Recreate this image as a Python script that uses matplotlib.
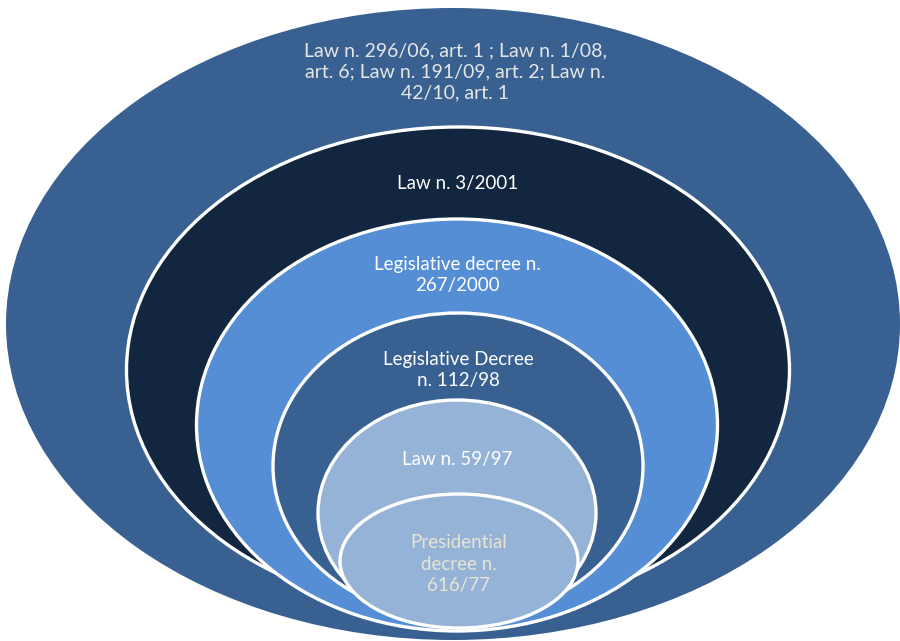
import matplotlib
matplotlib.use("Agg")
import matplotlib.pyplot as plt
from matplotlib.patches import Ellipse
from matplotlib import font_manager

# labels, outermost ring first
labels: list[str] = [
    "Law n. 296/06, art. 1 ; Law n. 1/08,\nart. 6; Law n. 191/09, art. 2; Law n.\n42/10, art. 1",
    "Law n. 3/2001",
    "Legislative decree n.\n267/2000",
    "Legislative Decree\nn. 112/98",
    "Law n. 59/97",
    "Presidential\ndecree n.\n616/77",
]

fill_colors: list[str] = ["#386192", "#12263F", "#558ED5", "#386192", "#95B3D7", "#95B3D7"]
text_colors: list[str] = ["#E6E6E6", "#FFFFFF", "#FFFFFF", "#FFFFFF", "#FFFFFF", "#E8E4D4"]

# ellipse geometry in pixel coords (cx, cy, width, height), y grows downward
ellipses: list[tuple[float, float, float, float]] = [
    (453, 324, 894, 632),
    (458, 370, 663, 486),
    (457, 425, 521, 412),
    (458, 466, 370, 306),
    (457, 513, 278, 226),
    (459, 561, 238, 134),
]
label_y: list[float] = [72, 184, 275, 370, 460, 564]


def pick_font(candidates: list[str]) -> str:
    names = {f.name for f in font_manager.fontManager.ttflist}
    for name in candidates:
        if name in names:
            return name
    return "DejaVu Sans"


top_font = pick_font(["Lato", "Open Sans", "Noto Sans"])
body_font = pick_font(["Lato", "Open Sans", "Noto Sans"])

fig = plt.figure(figsize=(9, 6.41), dpi=100)
ax = fig.add_axes([0, 0, 1, 1])
ax.set_xlim(0, 900)
ax.set_ylim(641, 0)
ax.axis("off")

for i, (cx, cy, w, h) in enumerate(ellipses):
    edge = "none" if i == 0 else "white"
    ax.add_patch(Ellipse((cx, cy), w, h, facecolor=fill_colors[i],
                         edgecolor=edge, linewidth=2.4, zorder=i + 1))

for i, text in enumerate(labels):
    cx = ellipses[i][0] + (2 if i == 0 else 0)
    font = top_font if i == 0 else body_font
    size = 14 if i == 0 else 13.5
    ax.text(cx, label_y[i], text, ha="center", va="center", color=text_colors[i],
            fontsize=size, family=font, linespacing=1.3, zorder=20)

fig.savefig("out.png", dpi=100)
